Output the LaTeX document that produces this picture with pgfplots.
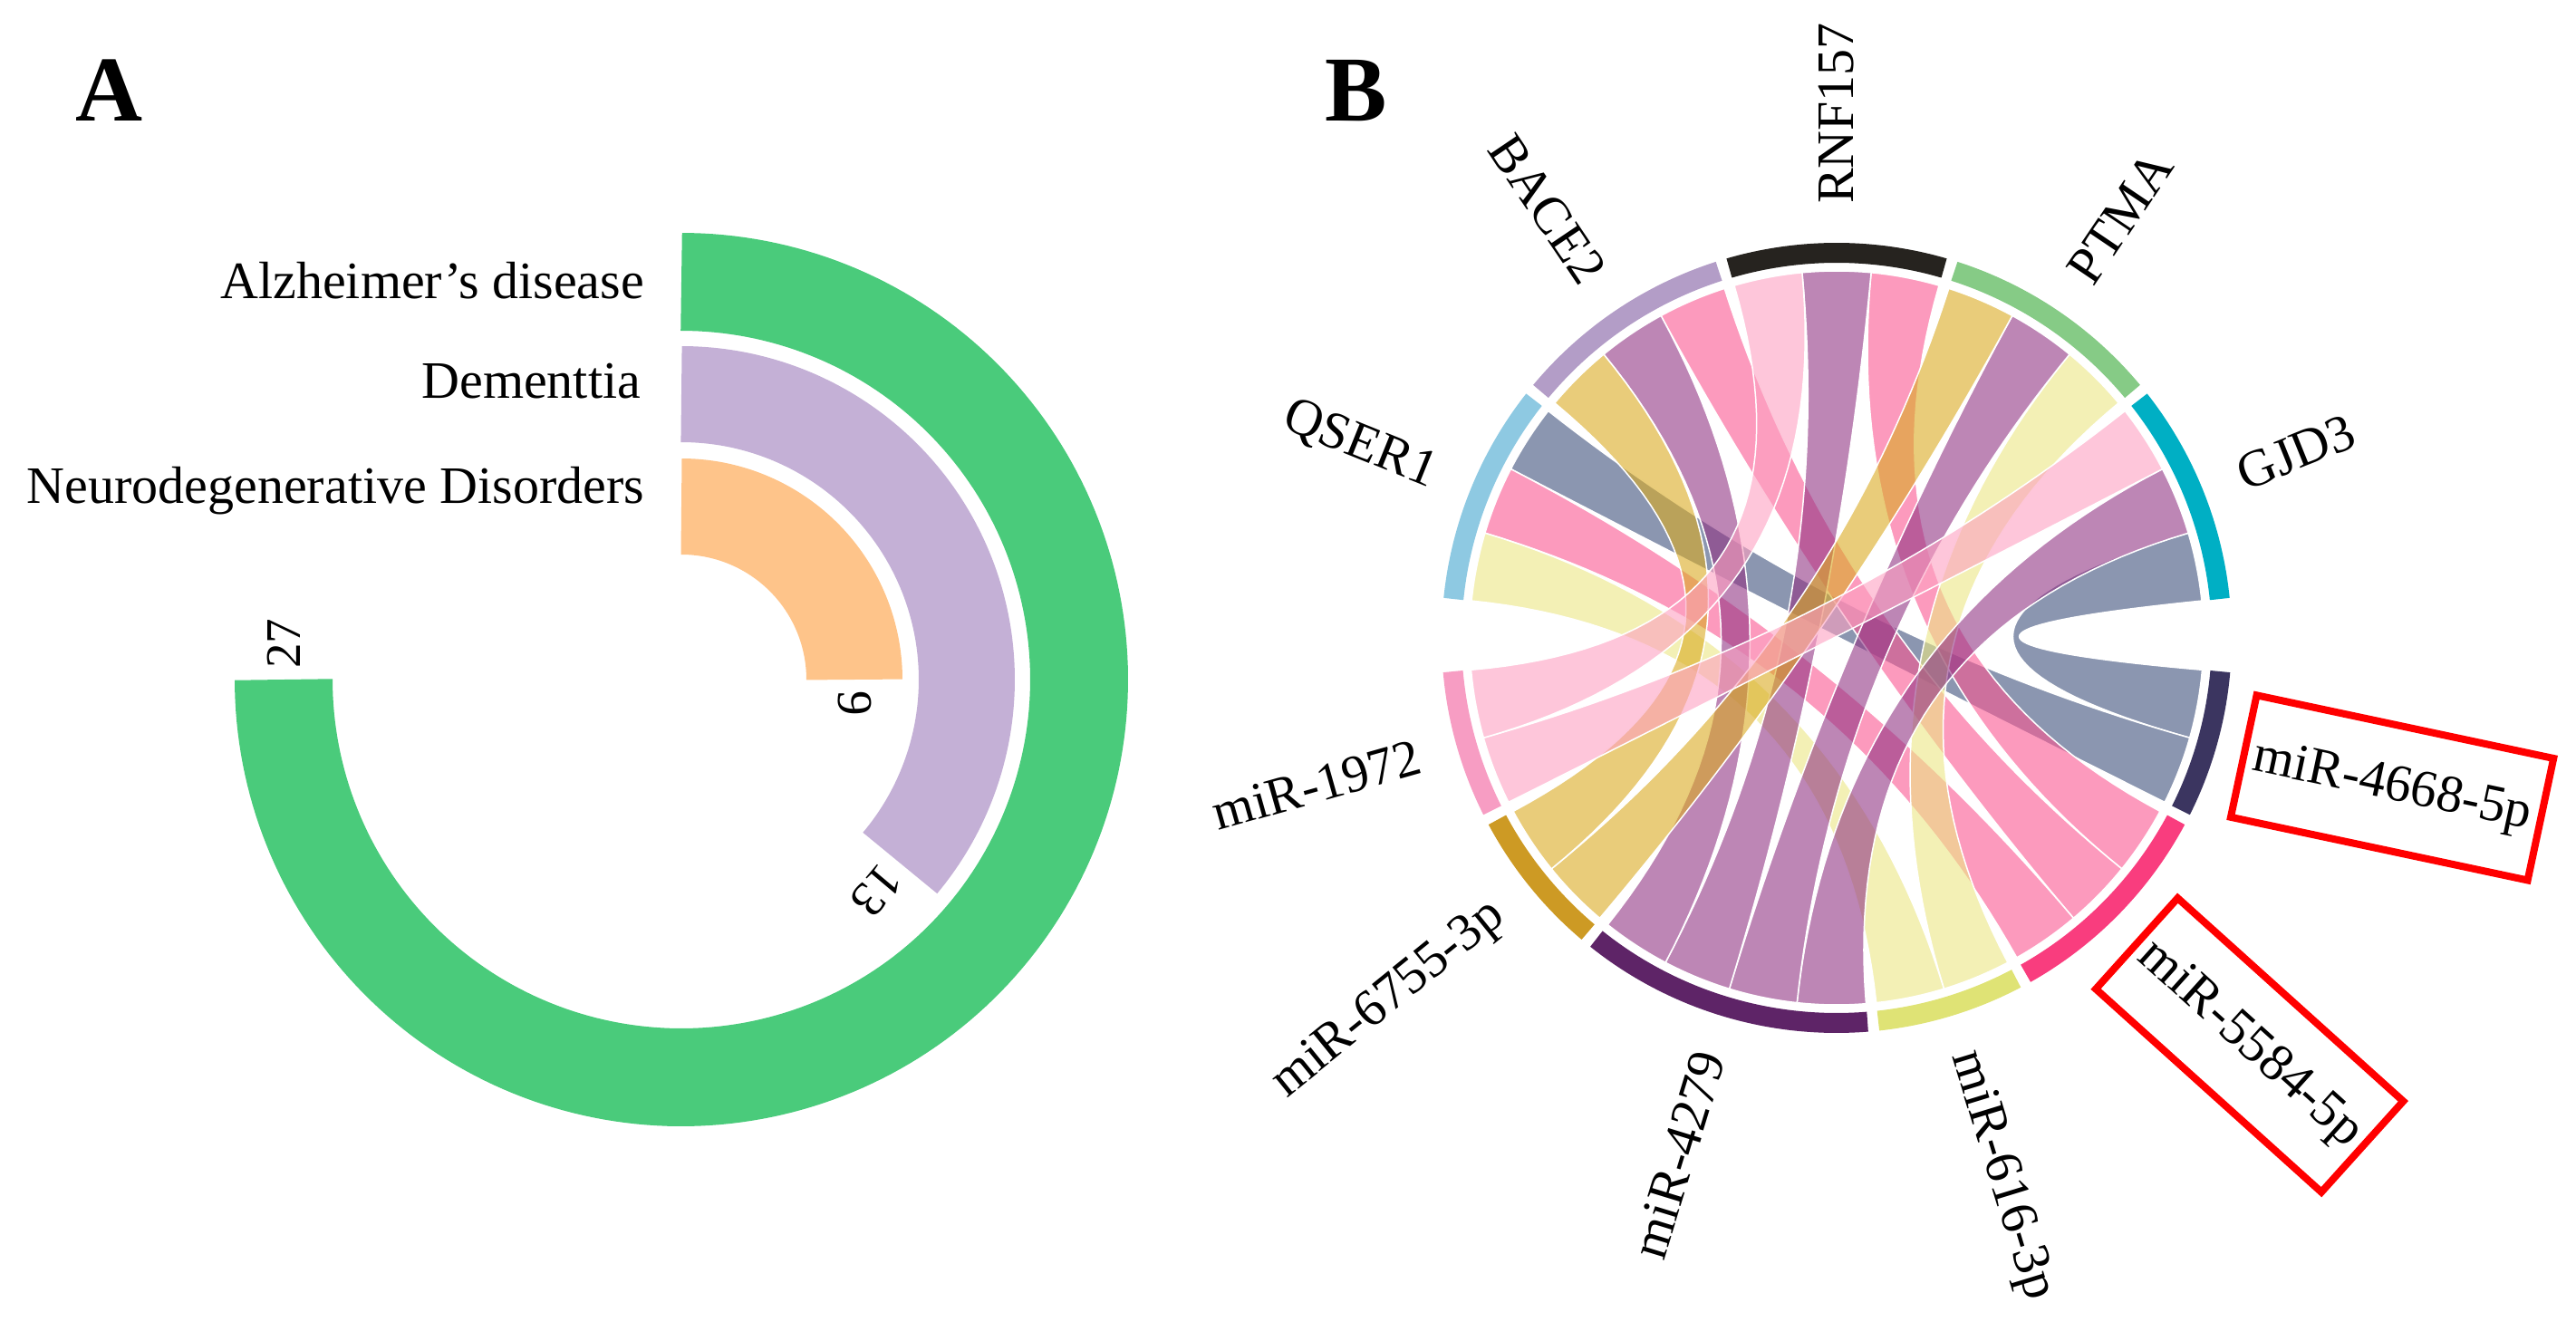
\documentclass[border=0pt]{standalone}
\usepackage{pgfplots}
\pgfplotsset{compat=1.18}
\usepackage{fontspec}
\setmainfont{Liberation Serif}
% panel A colours
\definecolor{cAlz}{RGB}{74,203,123}
\definecolor{cDem}{RGB}{196,176,214}
\definecolor{cNeu}{RGB}{254,196,138}
% sector colours
\definecolor{sQSER}{RGB}{142,201,226}
\definecolor{sBACE}{RGB}{179,157,199}
\definecolor{sRNF}{RGB}{38,35,31}
\definecolor{sPTMA}{RGB}{134,203,134}
\definecolor{sGJD}{RGB}{0,175,196}
\definecolor{sM4668}{RGB}{59,53,96}
\definecolor{sM5584}{RGB}{249,61,126}
\definecolor{sM616}{RGB}{223,227,117}
\definecolor{sM4279}{RGB}{94,36,103}
\definecolor{sM6755}{RGB}{205,154,36}
\definecolor{sM1972}{RGB}{247,157,195}
% chord colours (used with fill opacity 0.6)
\definecolor{k4668}{RGB}{62,80,123}
\definecolor{k5584}{RGB}{250,87,145}
\definecolor{k616}{RGB}{235,230,132}
\definecolor{k4279}{RGB}{145,53,132}
\definecolor{k6755}{RGB}{218,170,33}
\definecolor{k1972}{RGB}{253,160,193}
\newcommand\lab{\fontsize{11.6}{13.9}\selectfont}
\pgfplotsset{
  chord/.style={draw=white, line width=0.3pt, fill opacity=0.6, domain=0:4, samples=161},
  ring/.style={line width=4.4pt, samples=40},
}
\begin{document}
\begin{tikzpicture}[
  declare function={
    chx(\t,\a,\b,\c,\d)=(\t<=1)*cos(\a+\t*(\b-\a))+(\t>1)*(\t<=2)*((2-\t)*(2-\t)*cos(\b)+(\t-1)*(\t-1)*cos(\c))+(\t>2)*(\t<=3)*cos(\c+(\t-2)*(\d-\c))+(\t>3)*((4-\t)*(4-\t)*cos(\d)+(\t-3)*(\t-3)*cos(\a));
    chy(\t,\a,\b,\c,\d)=(\t<=1)*sin(\a+\t*(\b-\a))+(\t>1)*(\t<=2)*((2-\t)*(2-\t)*sin(\b)+(\t-1)*(\t-1)*sin(\c))+(\t>2)*(\t<=3)*sin(\c+(\t-2)*(\d-\c))+(\t>3)*((4-\t)*(4-\t)*sin(\d)+(\t-3)*(\t-3)*sin(\a));
  }]
\begin{axis}[name=main, width=568.6pt, height=291.8pt, scale only axis,
  xmin=0, xmax=2843, ymin=0, ymax=1459, y dir=reverse, hide axis, clip=false]

% ---------------- Panel A: radial bars (max 36 = full circle) ----------------
\addplot[draw=cAlz, line width=21.6pt, domain=0:27, samples=200]
  ({752+439*sin(10*x)}, {750-439*cos(10*x)})
  node[pos=1, anchor=west, rotate=90, inner sep=2.5pt, outer sep=0pt, text=black] {\fontsize{11}{13}\selectfont 27};
\addplot[draw=cDem, line width=21.2pt, domain=0:13, samples=120]
  ({752+315*sin(10*x)}, {750-315*cos(10*x)})
  node[pos=1, anchor=west, rotate=-130, inner sep=2.5pt, outer sep=0pt, text=black] {\fontsize{11}{13}\selectfont 13};
\addplot[draw=cNeu, line width=21.2pt, domain=0:9, samples=100]
  ({752+191*sin(10*x)}, {750-191*cos(10*x)})
  node[pos=1, anchor=west, rotate=-90, inner sep=2.5pt, outer sep=0pt, text=black] {\fontsize{11}{13}\selectfont 9};

\node[anchor=base east, inner sep=0] at (axis cs:712,329) {\lab Alzheimer’s disease};
\node[anchor=base east, inner sep=0] at (axis cs:708,439) {\lab Dementtia};
\node[anchor=base east, inner sep=0] at (axis cs:712,555) {\lab Neurodegenerative Disorders};
\node[anchor=base west, inner sep=0] at (axis cs:83,134) {\fontsize{20.5}{24}\selectfont\bfseries A};
\node[anchor=base west, inner sep=0] at (axis cs:1461,134) {\fontsize{20.5}{24}\selectfont\bfseries B};

% ---------------- Panel B: chord diagram ----------------
% chords: source slot (a1,a2) on miRNA, target slot (b1,b2) on gene, angles in degrees
% miR-4668-5p
\addplot[chord, fill=k4668] ({2027+405*chx(x,-5,-15.8,16.6,5.8)}, {704-405*chy(x,-5,-15.8,16.6,5.8)});
\addplot[chord, fill=k4668] ({2027+405*chx(x,-15.8,-26.6,152.6,141.8)}, {704-405*chy(x,-15.8,-26.6,152.6,141.8)});
% miR-5584-5p
\addplot[chord, fill=k5584] ({2027+405*chx(x,-28.2,-39,84.6,73.8)}, {704-405*chy(x,-28.2,-39,84.6,73.8)});
\addplot[chord, fill=k5584] ({2027+405*chx(x,-39,-49.8,118.6,107.8)}, {704-405*chy(x,-39,-49.8,118.6,107.8)});
\addplot[chord, fill=k5584] ({2027+405*chx(x,-49.8,-60.6,163.4,152.6)}, {704-405*chy(x,-49.8,-60.6,163.4,152.6)});
% miR-616-3p
\addplot[chord, fill=k616] ({2027+405*chx(x,-62.2,-73,50.6,39.8)}, {704-405*chy(x,-62.2,-73,50.6,39.8)});
\addplot[chord, fill=k616] ({2027+405*chx(x,-73,-83.8,174.2,163.4)}, {704-405*chy(x,-73,-83.8,174.2,163.4)});
% miR-4279
\addplot[chord, fill=k4279] ({2027+405*chx(x,-85.4,-96.2,27.4,16.6)}, {704-405*chy(x,-85.4,-96.2,27.4,16.6)});
\addplot[chord, fill=k4279] ({2027+405*chx(x,-96.2,-107,61.4,50.6)}, {704-405*chy(x,-96.2,-107,61.4,50.6)});
\addplot[chord, fill=k4279] ({2027+405*chx(x,-107,-117.8,95.4,84.6)}, {704-405*chy(x,-107,-117.8,95.4,84.6)});
\addplot[chord, fill=k4279] ({2027+405*chx(x,-117.8,-128.6,129.4,118.6)}, {704-405*chy(x,-117.8,-128.6,129.4,118.6)});
% miR-6755-3p
\addplot[chord, fill=k6755] ({2027+405*chx(x,-130.2,-141,72.2,61.4)}, {704-405*chy(x,-130.2,-141,72.2,61.4)});
\addplot[chord, fill=k6755] ({2027+405*chx(x,-141,-151.8,140.2,129.4)}, {704-405*chy(x,-141,-151.8,140.2,129.4)});
% miR-1972
\addplot[chord, fill=k1972] ({2027+405*chx(x,-153.4,-164.2,38.2,27.4)}, {704-405*chy(x,-153.4,-164.2,38.2,27.4)});
\addplot[chord, fill=k1972] ({2027+405*chx(x,-164.2,-175,106.2,95.4)}, {704-405*chy(x,-164.2,-175,106.2,95.4)});

% sector rings
\addplot[ring, draw=sQSER, domain=141.8:174.2] ({2027+425*cos(x)}, {704-425*sin(x)});
\addplot[ring, draw=sBACE, domain=107.8:140.2] ({2027+425*cos(x)}, {704-425*sin(x)});
\addplot[ring, draw=sRNF, domain=73.8:106.2] ({2027+425*cos(x)}, {704-425*sin(x)});
\addplot[ring, draw=sPTMA, domain=39.8:72.2] ({2027+425*cos(x)}, {704-425*sin(x)});
\addplot[ring, draw=sGJD, domain=5.8:38.2] ({2027+425*cos(x)}, {704-425*sin(x)});
\addplot[ring, draw=sM4668, domain=-26.6:-5] ({2027+425*cos(x)}, {704-425*sin(x)});
\addplot[ring, draw=sM5584, domain=-60.6:-28.2] ({2027+425*cos(x)}, {704-425*sin(x)});
\addplot[ring, draw=sM616, domain=-83.8:-62.2] ({2027+425*cos(x)}, {704-425*sin(x)});
\addplot[ring, draw=sM4279, domain=-128.6:-85.4] ({2027+425*cos(x)}, {704-425*sin(x)});
\addplot[ring, draw=sM6755, domain=-151.8:-130.2] ({2027+425*cos(x)}, {704-425*sin(x)});
\addplot[ring, draw=sM1972, domain=-175:-153.4] ({2027+425*cos(x)}, {704-425*sin(x)});

% sector labels
\node[anchor=east, rotate=-22, inner sep=0] at (axis cs:1583.8,524.9) {\lab QSER1};
\node[anchor=east, rotate=-56, inner sep=0] at (axis cs:1759.7,307.7) {\lab BACE2};
\node[anchor=west, rotate=90, inner sep=0] at (axis cs:2027,226) {\lab RNF157};
\node[anchor=west, rotate=56, inner sep=0] at (axis cs:2294.3,307.7) {\lab PTMA};
\node[anchor=west, rotate=22, inner sep=0] at (axis cs:2470.2,524.9) {\lab GJD3};
\node[anchor=center, rotate=-12, draw=red, line width=1.6pt, minimum width=67pt, minimum height=27.5pt, inner sep=0] at (axis cs:2640.1,869.4) {\lab miR-4668-5p};
\node[anchor=center, rotate=-42, draw=red, line width=1.6pt, minimum width=67pt, minimum height=27pt, inner sep=0] at (axis cs:2482.7,1153.4) {\lab miR-5584-5p};
\node[anchor=west, rotate=-73, inner sep=0] at (axis cs:2166.8,1161.1) {\lab miR-616-3p};
\node[anchor=east, rotate=73, inner sep=0] at (axis cs:1887.2,1161.1) {\lab miR-4279};
\node[anchor=east, rotate=39, inner sep=0] at (axis cs:1655.5,1004.8) {\lab miR-6755-3p};
\node[anchor=east, rotate=15.8, inner sep=0] at (axis cs:1567.1,834.2) {\lab miR-1972};
\end{axis}
\pgfresetboundingbox
\useasboundingbox (main.south west) rectangle (main.north east);
\end{tikzpicture}
\end{document}
